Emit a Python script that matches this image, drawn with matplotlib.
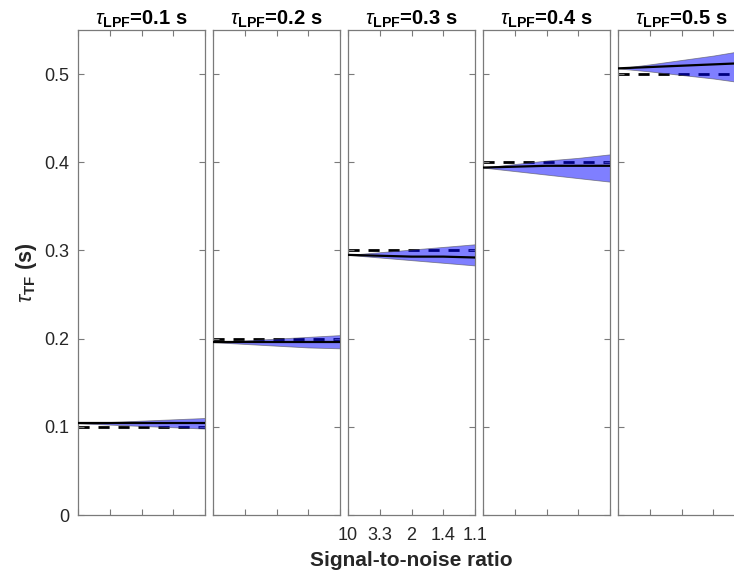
import matplotlib
matplotlib.use("Agg")
import matplotlib.pyplot as plt
import numpy as np

plt.rcParams['font.family'] = ['Liberation Sans', 'DejaVu Sans']
plt.rcParams['mathtext.fontset'] = 'custom'
plt.rcParams['mathtext.rm'] = 'Liberation Sans'
plt.rcParams['mathtext.it'] = 'Liberation Sans:italic'
plt.rcParams['mathtext.bf'] = 'Liberation Sans:bold'

# Data
noise = [0.1, 0.3, 0.5, 0.7, 0.9]
snr_labels = ['10', '3.3', '2', '1.4', '1.1']
tau_lpf = [0.1, 0.2, 0.3, 0.4, 0.5]
titles = ['0.1', '0.2', '0.3', '0.4', '0.5']

mean_01 = [0.104, 0.104, 0.104, 0.104, 0.104]
lo_01 = [0.104, 0.1025, 0.101, 0.0995, 0.098]
hi_01 = [0.104, 0.1055, 0.107, 0.1085, 0.110]

mean_02 = [0.196, 0.196, 0.196, 0.196, 0.196]
lo_02 = [0.196, 0.194, 0.192, 0.190, 0.189]
hi_02 = [0.196, 0.198, 0.200, 0.202, 0.204]

mean_03 = [0.295, 0.294, 0.293, 0.293, 0.292]
lo_03 = [0.295, 0.292, 0.289, 0.286, 0.283]
hi_03 = [0.295, 0.298, 0.301, 0.304, 0.307]

mean_04 = [0.394, 0.395, 0.396, 0.396, 0.396]
lo_04 = [0.394, 0.390, 0.386, 0.382, 0.378]
hi_04 = [0.394, 0.398, 0.402, 0.405, 0.409]

mean_05 = [0.5065, 0.508, 0.5095, 0.511, 0.5125]
lo_05 = [0.5065, 0.503, 0.499, 0.495, 0.490]
hi_05 = [0.5065, 0.511, 0.516, 0.521, 0.527]

means = [mean_01, mean_02, mean_03, mean_04, mean_05]
los = [lo_01, lo_02, lo_03, lo_04, lo_05]
his = [hi_01, hi_02, hi_03, hi_04, hi_05]

W, H = 734, 577
fig = plt.figure(figsize=(W / 100, H / 100), dpi=100)

left0 = 78
pw = 127
gap = 8
top = 30
bottom = 515
axcol = '#7a7a7a'
txtcol = '#262626'

axes = []
for i in range(5):
    l = left0 + i * (pw + gap)
    ax = fig.add_axes([l / W, 1 - bottom / H, pw / W, (bottom - top) / H])
    axes.append(ax)
    ax.plot(noise, [tau_lpf[i]] * len(noise), color='black', lw=2, dashes=(4, 3.2), zorder=1)
    ax.fill_between(noise, los[i], his[i], facecolor=(0, 0, 1, 0.5), edgecolor=(0.3, 0.3, 0.3, 0.6), lw=0.6, zorder=2)
    ax.plot(noise, means[i], color='black', lw=1.6, zorder=3)
    ax.set_xlim(0.1, 0.9)
    ax.set_ylim(0, 0.55)
    ax.set_xticks(noise)
    ax.set_yticks([0, 0.1, 0.2, 0.3, 0.4, 0.5])
    ax.tick_params(direction='in', top=True, right=True, length=4, width=0.8,
                   color=axcol, labelcolor=txtcol, labelsize=13)
    ax.tick_params(axis='x', pad=9)
    ax.tick_params(axis='y', pad=6)
    for s in ax.spines.values():
        s.set_color(axcol)
        s.set_linewidth(0.9)
    if i == 2:
        ax.set_xticklabels(snr_labels)
        ax.set_xlabel('Signal-to-noise ratio', fontsize=15, fontweight='bold', color=txtcol)
        ax.xaxis.set_label_coords(0.5, -0.075)
    else:
        ax.set_xticklabels([])
    if i == 0:
        ax.set_yticklabels(['0', '0.1', '0.2', '0.3', '0.4', '0.5'])
        ax.set_ylabel(r'$\tau_{\mathbf{TF}}$ (s)', fontsize=15.5, fontweight='bold', color=txtcol)
        ax.yaxis.set_label_coords(-0.31, 0.5)
    else:
        ax.set_yticklabels([])
    ax.set_title(r'$\tau_{\mathbf{LPF}}$' + '=' + titles[i] + ' s', fontsize=14.5, fontweight='bold',
                 color='black', pad=4)

fig.savefig('out.png', dpi=100)
